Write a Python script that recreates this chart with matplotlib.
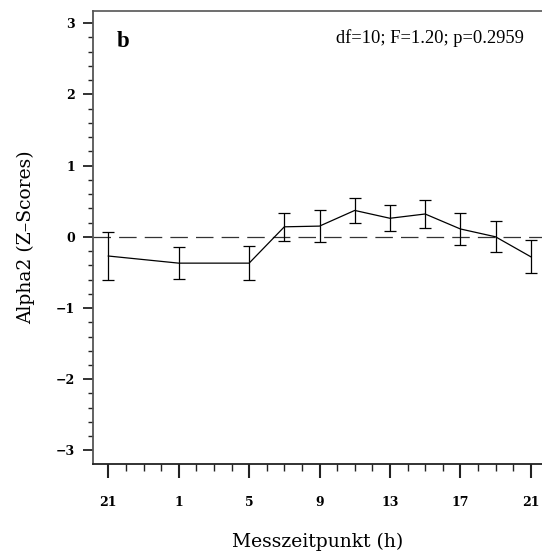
import matplotlib
matplotlib.use("Agg")
import matplotlib.pyplot as plt
from matplotlib.ticker import MultipleLocator, FixedLocator

# Data
hours = ["21", "1", "5", "7", "9", "11", "13", "15", "17", "19", "21"]
xpos = [0, 4, 8, 10, 12, 14, 16, 18, 20, 22, 24]   # hours since 21h
means = [-0.27, -0.37, -0.37, 0.14, 0.15, 0.37, 0.26, 0.32, 0.11, 0.00, -0.28]
errs = [0.34, 0.22, 0.24, 0.20, 0.22, 0.175, 0.18, 0.19, 0.23, 0.215, 0.23]
xtick_pos = [0, 4, 8, 12, 16, 20, 24]
xtick_labels = ["21", "1", "5", "9", "13", "17", "21"]
ytick_vals = [-3, -2, -1, 0, 1, 2, 3]

fig = plt.figure(figsize=(5.42, 5.53), dpi=100)
ax = fig.add_axes([93/542, 1-464/553, 1-93/542, (464-11)/553])

ax.axhline(0, color="#333333", lw=0.9, dashes=(14, 6.5))
ax.errorbar(xpos, means, yerr=errs, color="black", lw=0.9, elinewidth=0.9,
            capsize=4.5, capthick=0.9)

ax.set_xlim(-0.87, 24.64)
ax.set_ylim(-3.19, 3.17)

ax.xaxis.set_major_locator(FixedLocator(xtick_pos))
ax.set_xticklabels(xtick_labels)
ax.xaxis.set_minor_locator(MultipleLocator(1))
ax.yaxis.set_major_locator(FixedLocator(ytick_vals))
ax.set_yticklabels([("\u2212" + str(-v)) if v < 0 else str(v) for v in ytick_vals])
ax.yaxis.set_minor_locator(MultipleLocator(0.2))

for lab in ax.get_xticklabels() + ax.get_yticklabels():
    lab.set_family("DejaVu Serif")
    lab.set_weight("bold")
    lab.set_fontsize(9)

ax.tick_params(axis="x", which="major", direction="out", length=10, width=1.5,
               pad=13, color="#222222")
ax.tick_params(axis="x", which="minor", direction="out", length=5, width=1.0,
               color="#222222")
ax.tick_params(axis="y", which="major", direction="out", length=7, width=1.3,
               pad=6, color="#222222")
ax.tick_params(axis="y", which="minor", direction="out", length=3.5, width=1.0,
               color="#222222")

ax.spines["right"].set_visible(False)
ax.spines["left"].set_color("#555555")
ax.spines["left"].set_linewidth(1.3)
ax.spines["bottom"].set_color("#222222")
ax.spines["bottom"].set_linewidth(1.3)
ax.spines["top"].set_color("#555555")
ax.spines["top"].set_linewidth(1.2)

ax.set_xlabel("Messzeitpunkt (h)", family="DejaVu Serif", fontsize=13.5, labelpad=17)
ax.set_ylabel("Alpha2 (Z\u2013Scores)", family="DejaVu Serif", fontsize=13.5, labelpad=15)

ax.text(0.053, 0.932, "b", transform=ax.transAxes, family="Liberation Serif",
        fontweight="bold", fontsize=16.5, va="center", ha="left")
ax.text(0.96, 0.94, "df=10; F=1.20; p=0.2959", transform=ax.transAxes,
        family="Liberation Serif", fontsize=13.3, va="center", ha="right")

fig.savefig("out.png", dpi=100)
